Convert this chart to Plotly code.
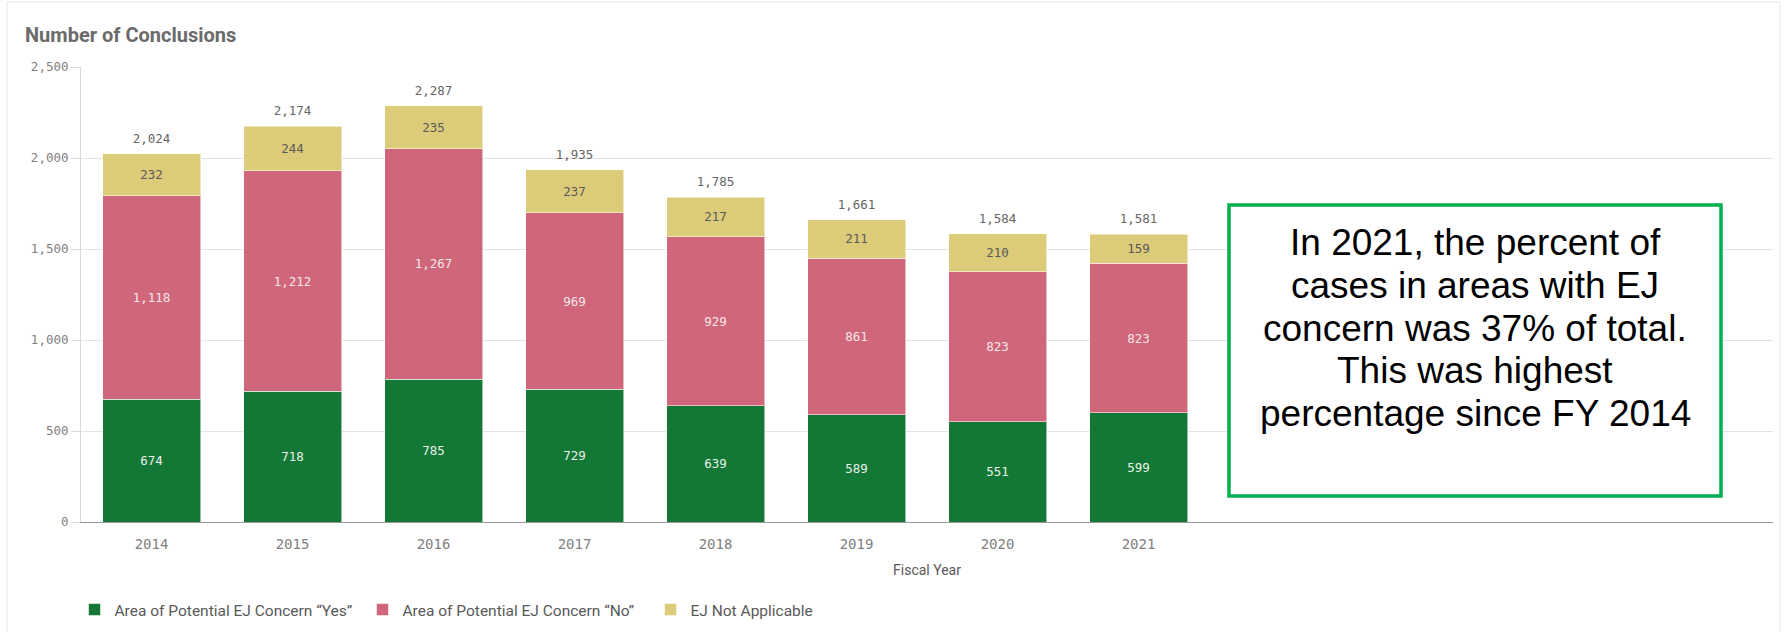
import plotly.graph_objects as go

years = ["2014", "2015", "2016", "2017", "2018", "2019", "2020", "2021"]
ej_yes = [674, 718, 785, 729, 639, 589, 551, 599]
ej_no = [1118, 1212, 1267, 969, 929, 861, 823, 823]
ej_na = [232, 244, 235, 237, 217, 211, 210, 159]
totals = [2024, 2174, 2287, 1935, 1785, 1661, 1584, 1581]

series_names = ["Area of Potential EJ Concern \u201cYes\u201d",
                "Area of Potential EJ Concern \u201cNo\u201d",
                "EJ Not Applicable"]
colors = ["#137735", "#CF6679", "#DCCB78"]
label_colors = ["#E8F1EA", "#F7E6EA", "#5A5A5A"]

note_lines = ["In 2021, the percent of",
              "cases in areas with EJ",
              "concern was 37% of total.",
              "This was highest",
              "percentage since FY 2014"]

W, H = 1785, 632
L, R, T, B = 81, 12, 67, 110
PW, PH = W - L - R, H - T - B

def px(x):
    return (x - L) / PW

def py(y):
    return (H - B - y) / PH

mono = "DejaVu Sans Mono"
fig = go.Figure()
for vals, name, col, lc in zip([ej_yes, ej_no, ej_na], series_names, colors, label_colors):
    fig.add_trace(go.Bar(
        x=years, y=vals, name=name,
        marker=dict(color=col, line=dict(color="rgba(255,255,255,0.55)", width=1)),
        texttemplate="%{y:,}", textposition="inside", insidetextanchor="middle",
        constraintext="none",
        textfont=dict(family=mono, size=12.5, color=lc),
        hoverinfo="skip",
    ))

fig.add_trace(go.Scatter(
    x=years, y=totals, mode="markers+text", text=[f"{t:,}" for t in totals],
    marker=dict(size=11, color="rgba(0,0,0,0)"),
    textposition="top center", textfont=dict(family=mono, size=12.5, color="#666666"),
    showlegend=False, hoverinfo="skip", cliponaxis=False,
))

fig.update_layout(
    width=W, height=H,
    margin=dict(l=L, r=R, t=T, b=B, pad=0, autoexpand=False),
    barmode="stack", bargap=0.305,
    paper_bgcolor="white", plot_bgcolor="white",
    font=dict(family="Roboto", color="#595959"),
    xaxis=dict(
        type="category", range=[-0.5, 11.5], showgrid=False, automargin=False,
        showline=True, linecolor="#9A9A9A", linewidth=1,
        ticks="", tickfont=dict(family=mono, size=14, color="#7F7F7F"),
        ticklabelstandoff=9,
        title=dict(text="Fiscal Year", font=dict(family="Roboto", size=14, color="#595959"), standoff=14),
    ),
    yaxis=dict(
        range=[0, 2500], tickvals=[0, 500, 1000, 1500, 2000, 2500], automargin=False,
        tickformat=",", showgrid=True, gridcolor="#E3E3E3", gridwidth=1,
        zeroline=False, showline=True, linecolor="#D9D9D9", linewidth=1,
        ticks="outside", ticklen=9, tickcolor="#D9D9D9",
        tickfont=dict(family=mono, size=12.5, color="#7F7F7F"),
    ),
    legend=dict(
        orientation="h", x=px(74.5), xanchor="left", y=py(610), yanchor="middle",
        font=dict(family="Roboto", size=15.5, color="#595959"),
        entrywidth=243, entrywidthmode="pixels",
        traceorder="normal", itemclick=False, itemdoubleclick=False,
    ),
    showlegend=True,
)

# outer frame
fig.add_shape(type="rect", xref="paper", yref="paper",
              x0=px(7), x1=px(1780), y0=py(650), y1=py(2),
              line=dict(color="#E6E6E6", width=1), fillcolor="rgba(0,0,0,0)", layer="below")

# title
fig.add_annotation(xref="paper", yref="paper", x=px(23), y=py(35), xanchor="left", yanchor="middle",
                   text="<b>Number of Conclusions</b>", showarrow=False,
                   font=dict(family="Roboto", size=20, color="#6B6B6B"))

# callout box
fig.add_shape(type="rect", xref="paper", yref="paper",
              x0=px(1229), x1=px(1721), y0=py(496), y1=py(205),
              line=dict(color="#00B050", width=3.5), fillcolor="white", layer="above")
for i, line in enumerate(note_lines):
    fig.add_annotation(xref="paper", yref="paper", x=px(1475), y=py(243 + 42.5 * i),
                       xanchor="center", yanchor="middle", text=line, showarrow=False,
                       font=dict(family="Liberation Sans", size=37, color="#000000"))

fig.write_html("out.html")
